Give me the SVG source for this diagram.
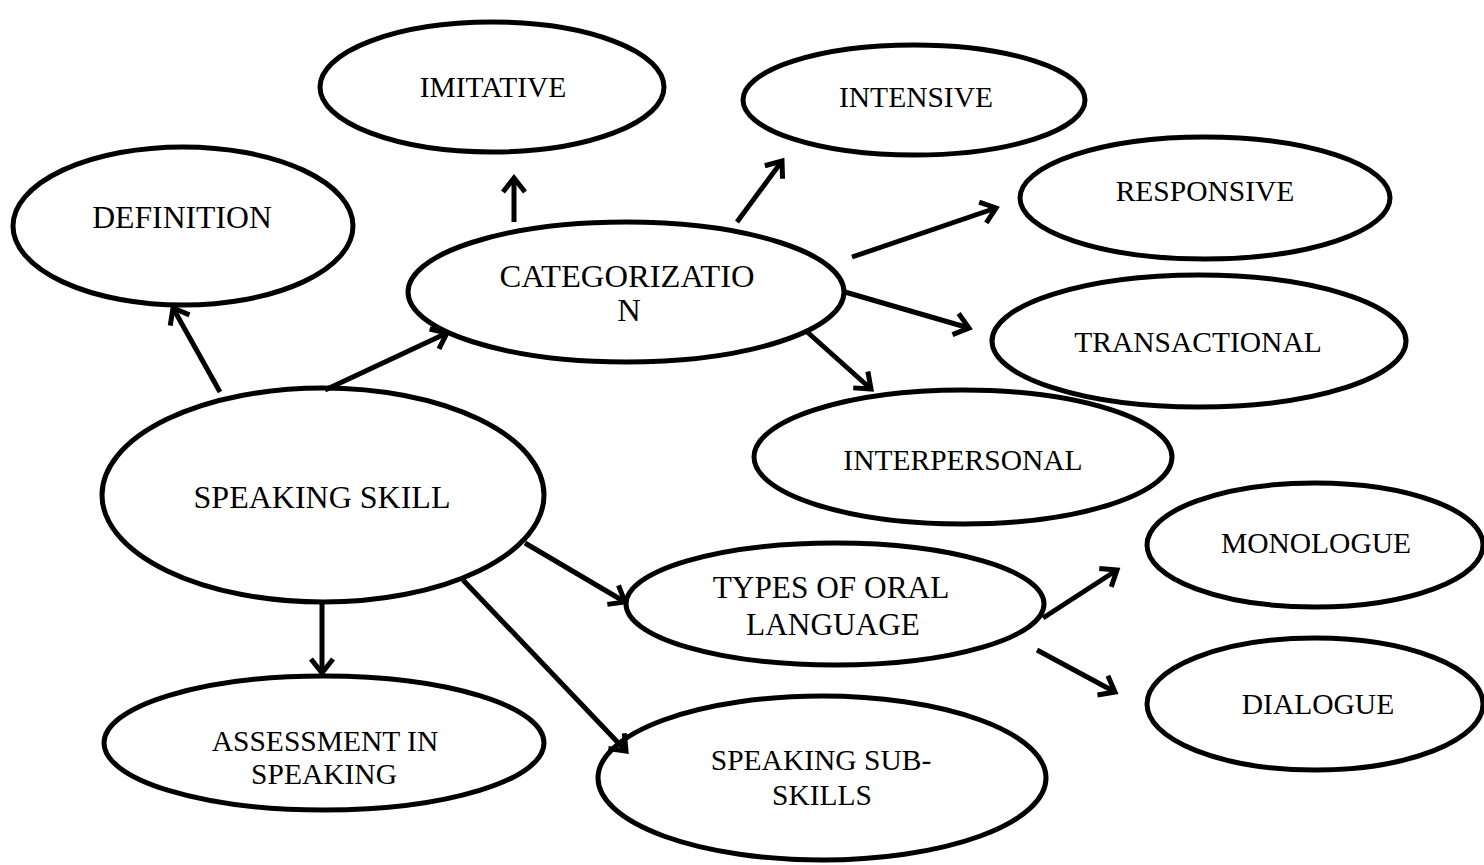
<svg xmlns="http://www.w3.org/2000/svg" width="1484" height="865" viewBox="0 0 1484 865">
<style>
.n{fill:#fff;stroke:#000;stroke-width:5}
.t{font-family:"Liberation Serif","Times New Roman",serif;font-size:29.5px;fill:#000;text-anchor:middle}
.c line{stroke:#000;stroke-width:5;stroke-linecap:butt}
</style>
<defs>
<marker id="ah" markerUnits="userSpaceOnUse" markerWidth="32" markerHeight="32" viewBox="-22 -16 32 32" refX="0" refY="0" orient="auto">
<path d="M-14,-11 L0,0 L-14,11" fill="none" stroke="#000" stroke-width="5" stroke-linejoin="miter"/>
</marker>
</defs>
<rect width="1484" height="865" fill="#fff"/>
<g id="imitative"><ellipse class="n" cx="492" cy="87" rx="172" ry="65"/><text class="t" x="493" y="97">IMITATIVE</text></g>
<g id="intensive"><ellipse class="n" cx="914" cy="100" rx="171" ry="55"/><text class="t" x="916" y="107">INTENSIVE</text></g>
<g id="definition"><ellipse class="n" cx="183" cy="226" rx="170" ry="79"/><text class="t" x="182" y="228" style="font-size:31.7px">DEFINITION</text></g>
<g id="responsive"><ellipse class="n" cx="1205" cy="198" rx="185" ry="61"/><text class="t" x="1205" y="201">RESPONSIVE</text></g>
<g id="categorization"><ellipse class="n" cx="626" cy="292" rx="218" ry="70"/><text class="t" x="627" y="287" style="font-size:32.6px">CATEGORIZATIO</text><text class="t" x="629" y="321" style="font-size:32.6px">N</text></g>
<g id="transactional"><ellipse class="n" cx="1199" cy="341" rx="207" ry="66"/><text class="t" x="1198" y="352">TRANSACTIONAL</text></g>
<g id="interpersonal"><ellipse class="n" cx="963" cy="457" rx="209" ry="67"/><text class="t" x="963" y="470">INTERPERSONAL</text></g>
<g id="speaking-skill"><ellipse class="n" cx="323" cy="495" rx="221" ry="107"/><text class="t" x="322" y="508" style="font-size:32px">SPEAKING SKILL</text></g>
<g id="monologue"><ellipse class="n" cx="1315" cy="545" rx="168" ry="62"/><text class="t" x="1316" y="553">MONOLOGUE</text></g>
<g id="types"><ellipse class="n" cx="835" cy="604" rx="209" ry="61"/><text class="t" x="831" y="598" style="font-size:31.3px">TYPES OF ORAL</text><text class="t" x="833" y="635" style="font-size:31.3px">LANGUAGE</text></g>
<g id="dialogue"><ellipse class="n" cx="1315" cy="704" rx="168" ry="66"/><text class="t" x="1318" y="714">DIALOGUE</text></g>
<g id="assessment"><ellipse class="n" cx="324" cy="743" rx="220" ry="67"/><text class="t" x="325" y="751">ASSESSMENT IN</text><text class="t" x="324" y="784">SPEAKING</text></g>
<g id="subskills"><ellipse class="n" cx="822" cy="778" rx="224" ry="82"/><text class="t" x="821" y="770">SPEAKING SUB-</text><text class="t" x="822" y="805">SKILLS</text></g>
<g class="c" id="connectors">
<line x1="220" y1="392" x2="173" y2="308" marker-end="url(#ah)"/>
<line x1="325" y1="390" x2="447" y2="333" marker-end="url(#ah)"/>
<line x1="514" y1="222" x2="514" y2="178" marker-end="url(#ah)"/>
<line x1="737" y1="222" x2="782" y2="161" marker-end="url(#ah)"/>
<line x1="852" y1="257" x2="996" y2="208" marker-end="url(#ah)"/>
<line x1="845" y1="292" x2="969" y2="328" marker-end="url(#ah)"/>
<line x1="805" y1="330" x2="871" y2="389" marker-end="url(#ah)"/>
<line x1="525" y1="543" x2="625" y2="602" marker-end="url(#ah)"/>
<line x1="322" y1="603" x2="322" y2="673" marker-end="url(#ah)"/>
<line x1="463" y1="580" x2="626" y2="751" marker-end="url(#ah)"/>
<line x1="1043" y1="618" x2="1117" y2="570" marker-end="url(#ah)"/>
<line x1="1037" y1="650" x2="1115" y2="692" marker-end="url(#ah)"/>
</g>
</svg>
